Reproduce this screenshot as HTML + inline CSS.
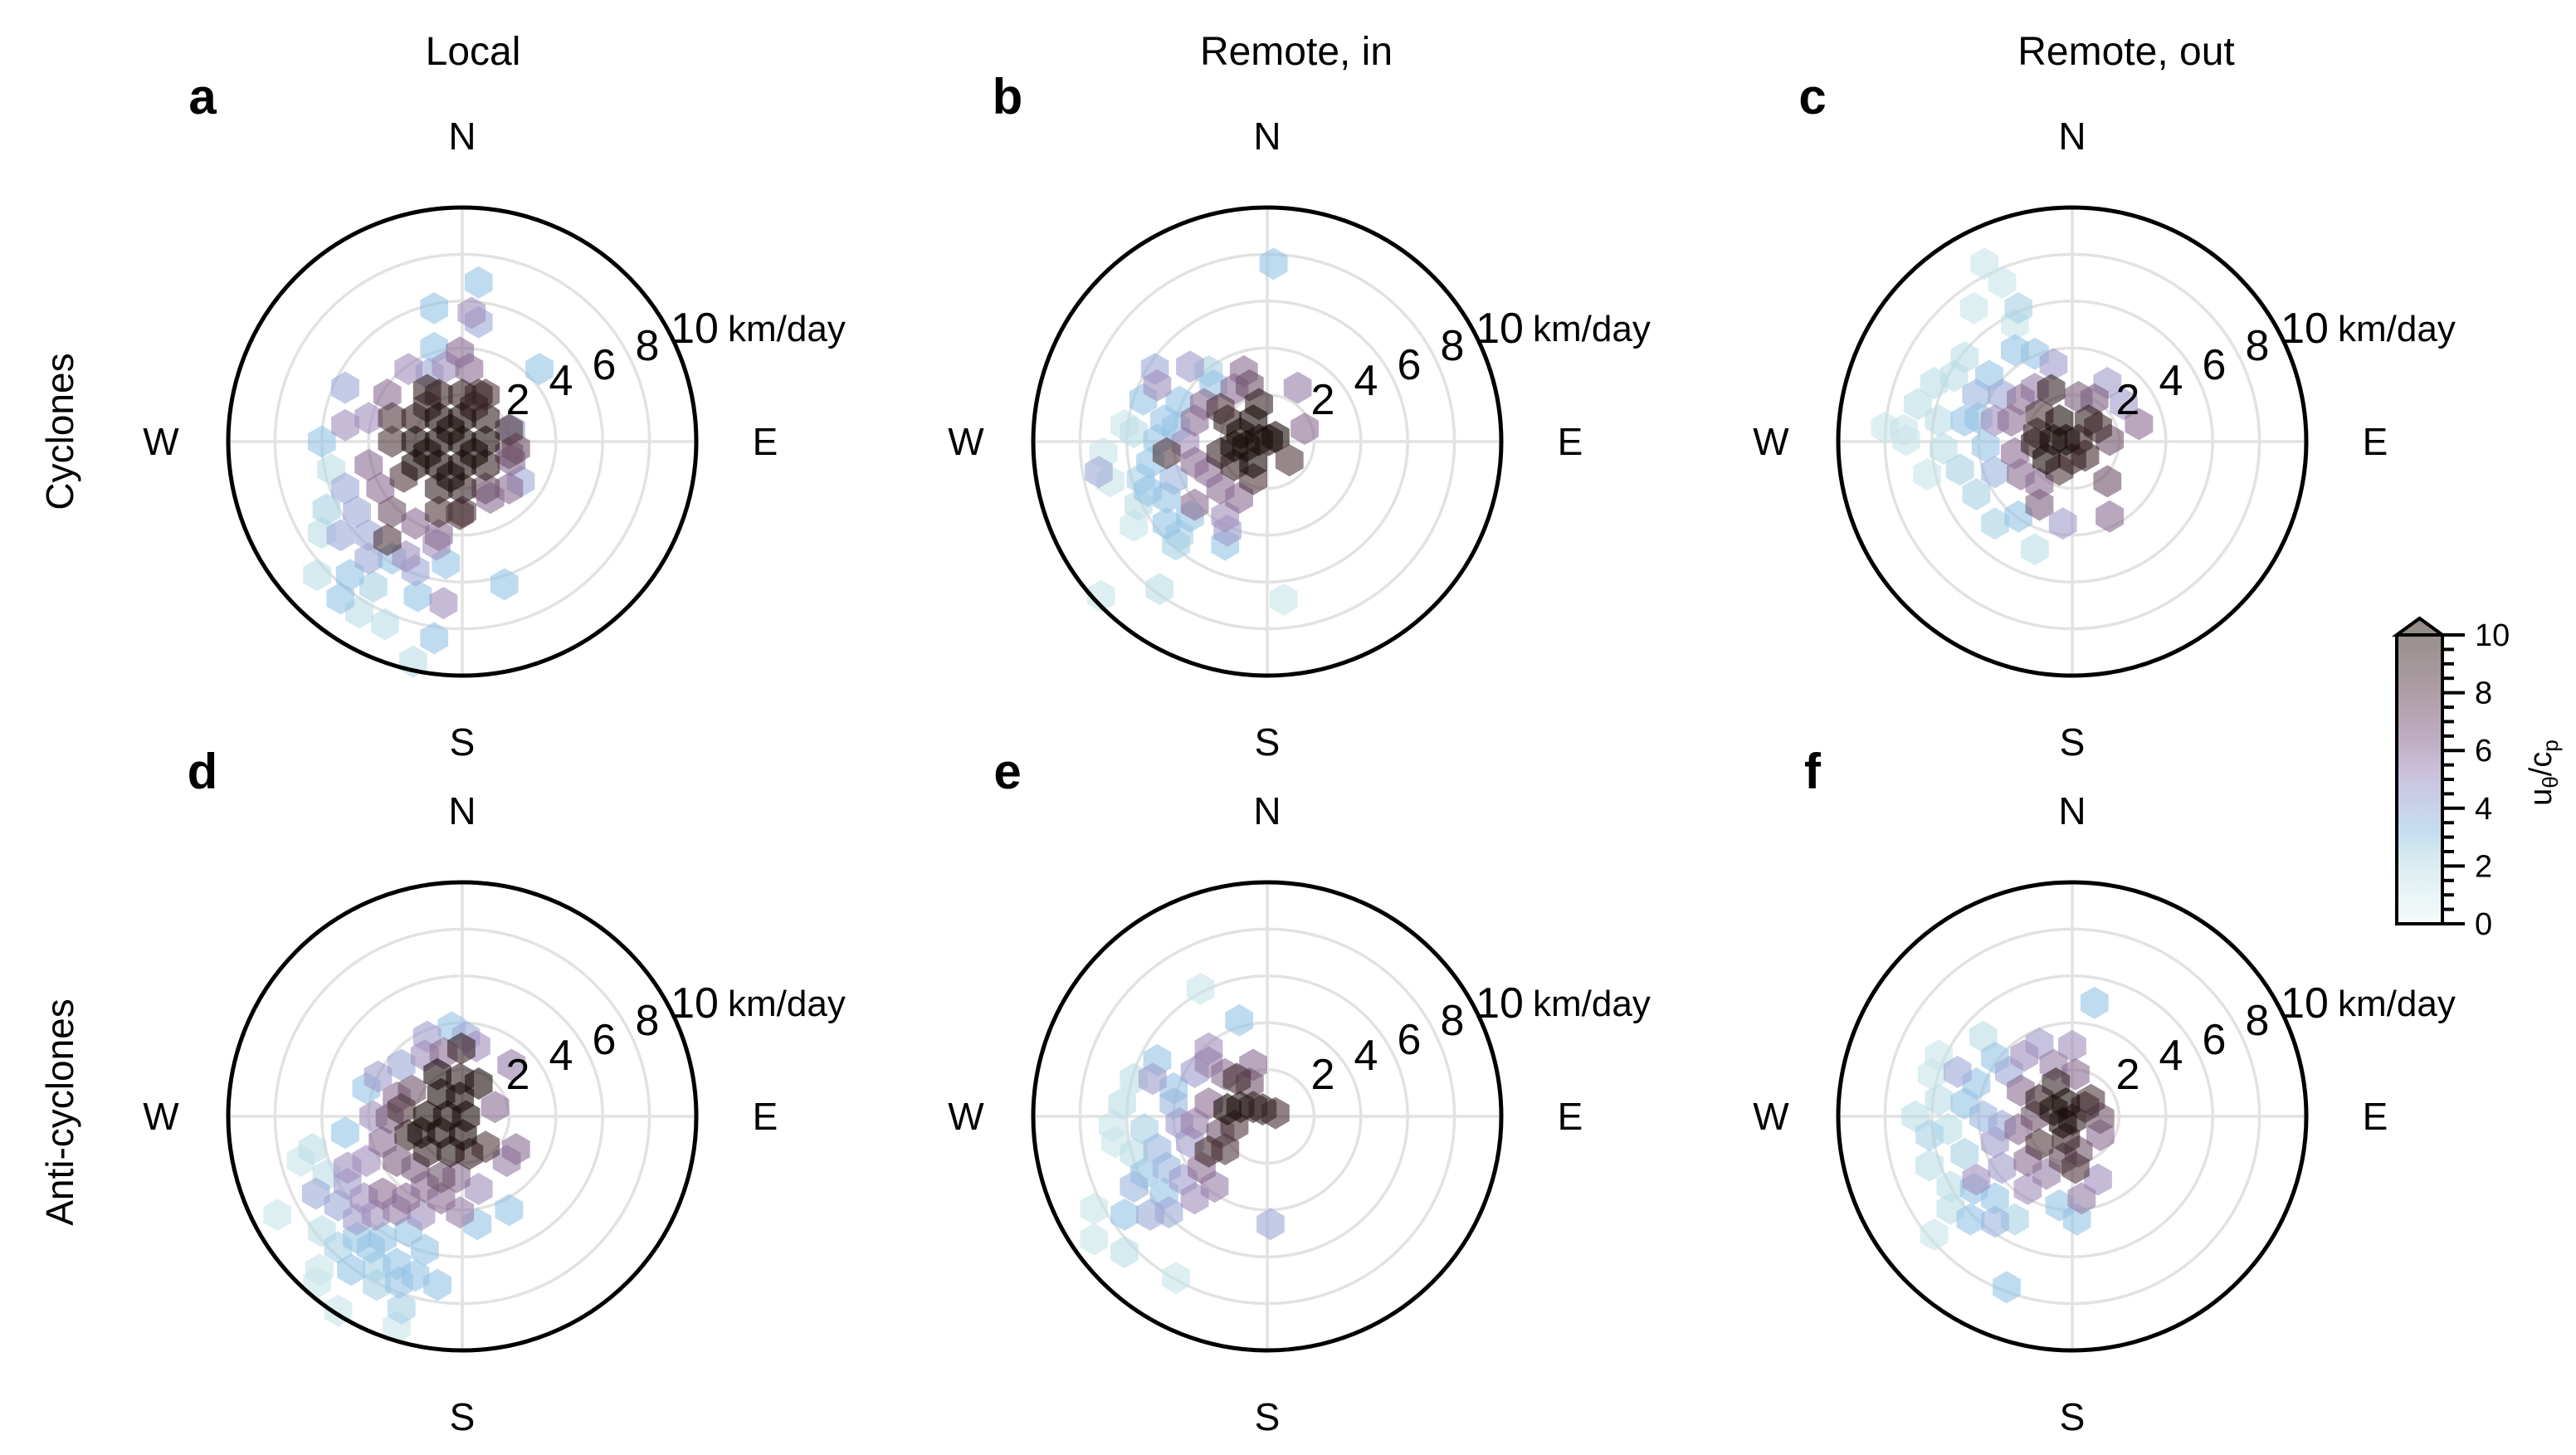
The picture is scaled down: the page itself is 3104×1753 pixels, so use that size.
<!DOCTYPE html>
<html><head><meta charset="utf-8"><style>
html,body{margin:0;padding:0;background:#fff;}
svg{display:block;font-family:"Liberation Sans",Arial,sans-serif;}
</style></head><body>
<svg id="fig" width="3104" height="1753" viewBox="0 0 3104 1753" xmlns="http://www.w3.org/2000/svg">
<rect width="3104" height="1753" fill="#fff"/>
<text x="570" y="78" font-size="48" text-anchor="middle">Local</text>
<text x="1562" y="78" font-size="48" text-anchor="middle">Remote, in</text>
<text x="2562" y="78" font-size="48" text-anchor="middle">Remote, out</text>
<text transform="translate(88,520) rotate(-90)" font-size="46" text-anchor="middle">Cyclones</text>
<text transform="translate(88,1340) rotate(-90)" font-size="46" text-anchor="middle">Anti-cyclones</text>
<g id="panels"></g>
<g id="cbar"></g>
</svg>
<script>
// Data: [east km/day, north km/day, u_theta/c_p]
const panelA = [[-1,0,10],[0,0,10],[-1,1,10],[0,1,10],[1,0,10],[-2,0,10],[-1,-1,10],[0,-1,10],[-2,-1,10],[1,1,9],[-1,2,9],[0,2,9],[1,-1,9],[-2,1,9],[0,-2,9],[-1,-2,9],[1,2,8],[2,0.5,8],[-3,1,8],[2,-0.5,7],[-1,-3,8],[0,-3,8],[1,-2,7],[2,-2,6],[-3,0,8],[-0.5,0.5,10],[-1.5,-0.5,10],[0.5,-0.5,10],[-0.5,-1.5,10],[0.5,1.5,9],[-1.5,1.5,9],
[0.7,6.8,3],[-1.2,5.7,3],[0.4,5.5,5],[0.7,5.1,4],[-1.2,4.0,3],[-0.1,3.8,6],[-0.7,3.2,5],[-2.3,3.1,5],[0.3,3.1,6],[-1.4,2.9,4],[3.3,3.1,3],[-5.0,2.3,4],[-1.5,2.2,9],[0.7,2.0,9],[2.1,0.5,4],[2.3,-0.3,7],[2.1,-0.8,6],[2.5,-1.7,4],[1.2,-2.4,6],[-0.1,-3.1,8],[-5.0,0.7,5],[-6.0,0,3],[-5.6,-1.2,2],
[-5.8,-2.9,2.5],[-6.0,-3.9,2],[-5.2,-4.0,4],[-4.0,-4.0,4],[-3.2,-4.2,8],[-2.4,-4.9,5],[-1.1,-4.4,5],[-0.7,-5.2,3],[-6.2,-5.7,2],[-4.8,-5.7,3],[-3.8,-6.2,2.5],[-5.2,-6.7,3],[-1.9,-6.6,3],[-0.8,-6.9,5],[1.8,-6.1,3],[-4.4,-7.3,2],[-3.3,-7.8,2],[-1.2,-8.4,3],[-2.1,-9.4,2],
[-4,-1,6],[-3.5,-2,6],[-4.5,-3,4],[-3,-3,7],[-2,-3.5,6],[-1,-4,6],[-5,-2,4],[-4,-5,4],[-3,-5,3],[-2,-5.5,4],[-3.2,2.0,6],[-4,1,5],[-2.5,-1.5,8]];
const panelB = [[0.27,7.6,3],[-7.2,-1.3,4],[-7.0,-0.5,1.5],[-6.7,-1.7,1.5],[-6.1,0.7,1.5],[-5.7,0.4,2],[-5.3,1.8,3],[-4.8,3.1,4],[-4.7,2.4,5],[-3.3,3.2,4.5],[-2.5,3.0,2.5],[-2.3,2.4,3],[-1.0,3.0,6],[-0.75,2.4,7],[-1.4,2.25,6],[1.3,2.3,5.5],[1.6,0.55,6],[0.95,-0.8,8],
[-0.35,1.6,9],[-0.6,0.9,10],[0.07,0.07,10],[0.35,0.2,10],[-0.35,0.07,10],[-0.9,-0.2,10],[-1.4,-0.2,10],[-2.0,-0.5,9],[-1.15,0.35,10],[-0.6,-0.9,10],[-1.4,-1.0,9],[-1.7,0.9,9],[-2.0,1.4,8],[-0.6,-1.6,8],[-4.3,-0.5,8],[-1.2,-2.4,6],
[-2.7,1.6,6],[-3.1,0.9,6],[-2.5,-1.3,6],[-3.1,-0.9,6],[-2.0,-2.0,6],[-3.1,-2.7,6],[-1.8,-3.2,5],[-1.7,-3.8,4.5],[-3.5,-0.07,5],
[-4.4,0.9,3],[-4.7,0.07,3],[-5.0,-0.9,3],[-5.4,-1.6,2.5],[-5.1,-2.1,3],[-5.5,-2.7,2],[-4.3,-2.4,3],[-4.0,-1.6,3.5],[-3.9,0.6,3],[-3.75,1.7,3],[-4.3,-3.5,3],[-3.75,-4.0,2.5],[-5.7,-3.6,1.5],[-3.9,-4.4,2.5],[-3.3,-3.2,3],[-1.8,-4.4,3],
[-4.6,-6.3,2],[-7.1,-6.6,1.5],[0.7,-6.75,1.5]];
const panelC = [[-3.75,7.6,1.5],[-3.0,6.8,1.5],[-4.2,5.7,1.5],[-2.3,5.7,2.5],[-2.45,5.0,1.5],[-2.45,3.9,3],[-1.6,3.75,3],[-0.8,3.3,4.5],[-4.6,3.6,2],[-5.05,2.8,2],[-5.9,2.5,2],[-6.6,1.6,2],[-8.0,0.6,1.5],[-7.2,0.5,1.5],[-7.1,0.07,1.5],[-6.2,-1.4,1.5],
[-5.7,0.9,2],[-5.5,-0.3,2],[-4.8,-1.2,2.5],[-4.1,-2.25,2.5],[-3.3,-3.5,2.5],[-2.3,-3.2,3],[-1.6,-4.6,2],[-4.6,0.9,3],[-4.1,2.0,3.5],[-3.55,2.8,3],[-3.0,2.0,4],[-3.7,-0.2,3],[-3.3,-1.3,3.5],[-4.0,1.0,3],
[-2.2,1.8,6],[-1.6,2.25,5.5],[-2.6,0.9,6],[-3.3,0.9,5],[-2.45,-0.5,6],[-2.2,-1.4,6],[-1.4,-1.8,6],[-1.4,-2.7,6.5],[-0.4,-3.5,4.5],[1.6,-3.2,6],[1.5,-1.7,7],[1.6,0.07,7],[2.85,0.75,6],[2.2,1.6,4.5],[1.5,2.5,4.5],[0.95,1.8,6.5],[0.27,1.9,6.5],
[-0.9,2.2,9],[-0.55,0.9,10],[-0.27,0.07,10],[-0.8,0.07,10],[0.27,0.07,9],[1.1,0.6,8.5],[0.7,0.9,9],[-1.1,-0.75,10],[-1.6,-0.07,9],[0,-0.75,9],[-0.55,-1.2,8],[0.55,-0.6,8.5],[-1.4,1.15,8],[-1.5,0.35,9]];
const panelD = [[-0.45,3.8,3],[0.16,3.4,4],[-1.5,3.4,4.5],[0.6,3.0,5],[-0.04,2.9,9],[2.1,2.2,5.5],[-2.6,2.2,4],[-3.6,1.7,4.5],[-4.1,1.2,3],[-1.6,2.6,5],[-0.8,2.7,6],
[-1.06,1.8,10],[-0.1,1.6,9],[0.7,1.4,10],[-0.9,0.95,10],[-0.1,0.8,10],[-1.5,0,10],[-0.65,0,10],[0.16,0,10],[-1.75,-0.7,10],[-0.9,-0.7,10],[0.03,-0.8,10],[-2.3,-0.8,9],[-1.5,-1.5,9],[-0.5,-1.5,9.5],[0.3,-1.6,9],[1.0,-1.3,8],[1.4,0.4,6],[2.3,-1.4,6],[1.9,-1.9,5.5],[-2.6,0.3,8],[-2.8,0.8,6],[-2.15,1.1,7],[-3.1,-0.07,6.5],[-3.8,0,5],
[-3.4,-1.1,6],[-4.1,-1.9,5],[-4.9,-2.2,5],[-2.8,-1.9,6.5],[-2.0,-2.2,6.5],[-0.9,-2.6,7],[-0.25,-2.6,6],[0.7,-3.1,5],[-0.1,-4.1,5.5],[-1.6,-3.0,6],[-2.4,-3.5,6],[-3.4,-3.3,6],[-4.2,-3.5,5],[-4.9,-2.9,4.5],[-6.25,-3.3,4],[-5.3,-3.8,4],[-4.5,-4.4,4.5],[-3.7,-4.2,5],[-2.8,-4.0,5.5],[-1.75,-4.2,5],[-0.9,-3.5,6],[2.0,-4.0,3],[0.65,-4.6,3],
[-5.0,-0.7,3],[-6.4,-1.4,2],[-6.9,-1.9,1.5],[-5.8,-2.5,2],[-7.9,-4.2,1.5],[-6.0,-4.9,2],[-5.3,-5.6,2.5],[-4.5,-5.2,3],[-3.9,-5.6,3],[-3.4,-5.2,3],[-2.3,-4.9,3],[-1.6,-5.7,3],[-2.8,-6.3,3],[-3.65,-6.4,2.5],[-4.75,-6.55,3],[-6.1,-6.55,1.5],[-6.2,-7.1,1.5],[-3.65,-7.2,2.5],[-2.7,-7.1,3],[-2.0,-6.8,3],[-1.06,-7.2,3],[-2.6,-8.2,2.5],[-5.3,-8.3,1.5],[-2.8,-9.0,1.5]];
const panelE = [[-2.85,5.45,1.5],[-1.2,4.1,3],[-2.5,2.9,5],[-4.7,2.4,3],[-5.7,1.6,2],[-4.9,1.6,4.5],[-4.0,1.2,3],[-3.1,1.9,4.5],[-2.5,2.3,5.5],[-1.8,1.8,6],[-0.6,2.2,6],[-0.75,1.4,7],[-1.3,1.6,8.5],
[-1.7,0.3,10],[-1.15,0.4,9.5],[-0.6,0.4,9],[-0.2,0.3,9],[0.35,0.14,8.5],[-1.4,-0.4,8],[-1.8,-1.4,8],[-2.5,-1.5,8.5],[-2.0,-0.7,7],
[-2.5,0.55,6],[-3.1,-0.3,5.5],[-3.75,-0.3,4.5],[-2.8,-2.2,6],[-2.25,-3.0,5.5],[-3.1,-3.5,5],[-3.6,-2.7,4.5],[-4.3,-2.2,3.5],[-4.7,-1.4,3.5],[-5.25,-0.55,2.5],[-6.6,-0.4,1.5],[-6.2,0.55,2],[-6.5,-1.1,1.5],[-5.7,-1.6,2],[-5.25,-2.45,3],[-5.7,-3.0,3.5],[-4.4,-3.3,3],[-5.0,-4.2,4],[-4.2,-4.1,4],[-6.1,-4.2,3],[-7.4,-3.95,1.5],[-7.4,-5.25,1.5],[-6.1,-5.8,2],[-3.9,-6.9,1.5],[0.14,-4.6,4],[-4.0,0.55,3.5],[-3.3,-1.1,4.5]];
const panelF = [[0.95,4.85,3],[0,3.0,5],[-1.4,3.1,4.5],[-2.05,2.6,5],[-3.8,3.4,2],[-5.7,2.6,1.5],[-6.0,1.8,1.5],[-4.9,1.9,4],[-4.1,1.4,3],[-3.3,2.5,3],[-2.7,1.9,4],[-0.8,2.2,5.5],[0.14,1.8,6],
[-0.7,1.4,9],[-1.4,0.7,9],[-0.8,0.27,10],[-0.27,0.55,10],[-0.4,-0.27,10],[0,-0.14,9],[0.55,0.4,8.5],[0.8,0.7,8],[1.2,-0.07,7],[1.2,-0.8,6],[-0.27,-0.95,9],[-1.4,-1.2,8],[0.14,-2.2,8],[-0.4,-1.8,7.5],[0.27,-1.5,7],
[-2.2,1.1,6],[-1.6,0,7],[-2.3,-0.55,6],[-1.9,-1.9,6],[-1.1,-2.45,5.5],[1.1,-2.7,5],[0.4,-3.5,5.5],[-1.9,-3.1,5],[-3.3,-1.1,4.5],[-4.1,-2.7,5],[-3.0,-2.2,4.5],
[-6.7,0,2],[-6.1,-0.8,2.5],[-5.7,0.7,2],[-5.3,-0.55,2],[-4.6,0.55,3],[-3.8,0,3.5],[-3.0,-0.4,4],[-4.6,-1.6,2.5],[-6.1,-2.1,2],[-5.2,-3.0,2],[-4.2,-3.1,3],[-3.3,-3.5,3],[-2.45,-4.4,2.5],[-4.35,-4.4,3],[-5.2,-3.95,2],[-3.3,-4.5,3.5],[-0.55,-3.8,3],[0.2,-4.4,3],[-5.9,-5.05,1.5],[-2.8,-7.3,3]];
const panelLetters = ["a","b","c","d","e","f"];
const ringTicks = [2,4,6,8,10];
const cbarTicks = [0,2,4,6,8,10];
const compassLabels = ["N","E","S","W"];

const NS="http://www.w3.org/2000/svg";
const R=282, RMAX=10, HEXR=19.5, ALPHA=0.6;
const centers=[[557,532],[1527,532],[2497,532],[557,1345],[1527,1345],[2497,1345]];
const datasets=[panelA,panelB,panelC,panelD,panelE,panelF];
const stops=[[0,[240,248,248]],[2,[186,221,228]],[3,[148,195,228]],[4,[157,168,213]],[5,[160,141,189]],[6,[139,108,146]],[8,[80,55,62]],[10,[25,12,10]]];
function cmap(v){v=Math.max(0,Math.min(10,v));for(let i=0;i<stops.length-1;i++){const[a,ca]=stops[i],[b,cb]=stops[i+1];if(v<=b){const t=(v-a)/(b-a);return"rgb("+ca.map((c,k)=>Math.round(c+(cb[k]-c)*t)).join(",")+")";}}return"rgb(25,12,10)";}
const cbStops=[[0,[247,251,251]],[2,[217,236,240]],[3,[196,222,240]],[4,[201,207,232]],[5,[203,192,219]],[6,[191,174,195]],[8,[168,154,158]],[10,[148,140,136]]];
function cbcol(v){for(let i=0;i<cbStops.length-1;i++){const[a,ca]=cbStops[i],[b,cb]=cbStops[i+1];if(v<=b){const t=(v-a)/(b-a);return"rgb("+ca.map((c,k)=>Math.round(c+(cb[k]-c)*t)).join(",")+")";}}return"rgb(148,140,136)";}
function mk(tag,attrs,parent){const e=document.createElementNS(NS,tag);for(const k in attrs)e.setAttribute(k,attrs[k]);parent.appendChild(e);return e;}
const panelsG=document.getElementById("panels");
centers.forEach((c,pi)=>{
  const [cx,cy]=c;const sc=R/RMAX;
  const xs=e=>cx+e*sc, ys=n=>cy-n*sc;
  const g=mk("g",{},panelsG);
  
  
  ringTicks.slice(0,4).forEach(r=>{const ring=mk("circle",{cx:cx,cy:cy,r:r*sc,fill:"none",stroke:"#e2e2e2","stroke-width":3.5},g);
    
    });
  const l1=mk("line",{x1:cx-R,y1:cy,x2:cx+R,y2:cy,stroke:"#e2e2e2","stroke-width":3.5},g);
  
  
  const l2=mk("line",{x1:cx,y1:cy-R,x2:cx,y2:cy+R,stroke:"#e2e2e2","stroke-width":3.5},g);
  
  
  const pts=datasets[pi].slice().sort((a,b)=>a[2]-b[2]);
  pts.forEach(p=>{
    const hx=xs(p[0]),hy=ys(p[1]);let d="";
    for(let k=0;k<6;k++){const a=Math.PI/180*(-90+60*k);d+=(k?"L":"M")+(hx+HEXR*Math.cos(a)).toFixed(1)+","+(hy+HEXR*Math.sin(a)).toFixed(1);}
    const h=mk("path",{d:d+"Z",fill:cmap(p[2]),"fill-opacity":ALPHA},g);
    
    
  });
  const oc=mk("circle",{cx:cx,cy:cy,r:R,fill:"none",stroke:"#000","stroke-width":5},g);
  
  
  const off=[[0,-368],[365,0],[0,362],[-363,0]];
  compassLabels.forEach((t,i)=>{const tx=mk("text",{x:cx+off[i][0],y:cy+off[i][1]+16,"font-size":46,"text-anchor":"middle"},g);tx.textContent=t;
    
    });
  const loff=[[67,-52],[119,-75],[171,-94],[223,-117],[280,-138]];
  ringTicks.forEach((r,i)=>{const tx=mk("text",{x:cx+loff[i][0],y:cy+loff[i][1]+19,"font-size":52,"text-anchor":"middle"},g);tx.textContent=r;
    
    });
  const u=mk("text",{x:cx+320,y:cy-138+17,"font-size":44},g);u.textContent="km/day";
  
  
  const pl=mk("text",{x:cx-313,y:cy-395,"font-size":60,"font-weight":"bold","text-anchor":"middle"},g);pl.textContent=panelLetters[pi];
  
  
});
// colorbar
const cb=document.getElementById("cbar");
const defs=mk("defs",{},cb);
const lg=mk("linearGradient",{id:"cg",x1:0,y1:1,x2:0,y2:0},defs);
for(let v=0;v<=10;v+=0.5){mk("stop",{offset:v/10,"stop-color":cbcol(v)},lg);}
const bx0=2888,bx1=2943,by0=1113,by1=765;
const cy=v=>by0+(by1-by0)*v/10;
const body=mk("path",{d:`M${bx0},${by0}L${bx0},${by1}L${(bx0+bx1)/2},${by1-20}L${bx1},${by1}L${bx1},${by0}Z`,fill:"url(#cg)",stroke:"#000","stroke-width":4},cb);


const tip=mk("path",{d:`M${bx0},${by1}L${(bx0+bx1)/2},${by1-20}L${bx1},${by1}Z`,fill:"rgb(148,140,136)",stroke:"#000","stroke-width":4},cb);


for(let v=0;v<=10;v+=0.5){const maj=Number.isInteger(v/2);const t=mk("line",{x1:bx1,y1:cy(v),x2:bx1+(maj?27:14),y2:cy(v),stroke:"#000","stroke-width":4},cb);
  
  }
cbarTicks.forEach(v=>{const t=mk("text",{x:2982,y:cy(v)+13,"font-size":38},cb);t.textContent=v;
  
  });
const lab=mk("text",{transform:"translate(3074,931) rotate(-90)","font-size":38,"text-anchor":"middle"},cb);


lab.innerHTML='u<tspan font-size="26" dy="8">θ</tspan><tspan dy="-8">/c</tspan><tspan font-size="26" dy="8">p</tspan>';
</script>
</body></html>
